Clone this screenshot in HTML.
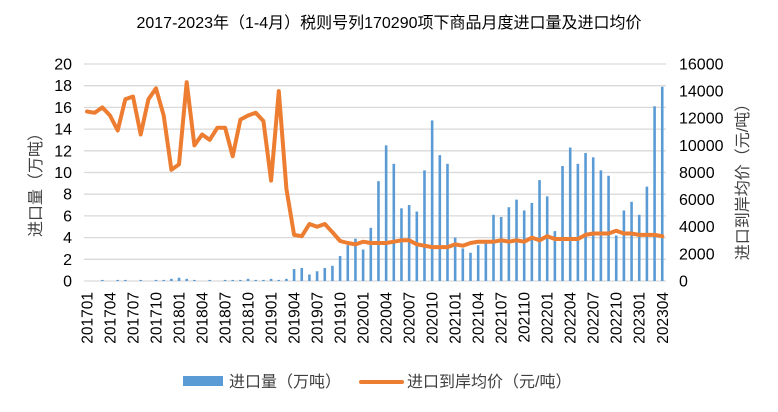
<!DOCTYPE html>
<html><head><meta charset="utf-8"><style>
body{margin:0;background:#fff;}
svg{display:block;font-family:"Liberation Sans","Noto Sans CJK SC",sans-serif;}
</style></head><body>
<svg id="s" width="778" height="412" xmlns="http://www.w3.org/2000/svg">
<rect width="778" height="412" fill="#fff"/>
<text x="389" y="28" text-anchor="middle" font-size="16" fill="#000">2017-2023年（1-4月）税则号列170290项下商品月度进口量及进口均价</text>
<g id="grid"></g><g id="bars"></g><g id="line"></g><g id="lab"></g>
<text transform="translate(41,181) rotate(-90)" text-anchor="middle" font-size="16" fill="#404040">进口量（万吨）</text>
<text transform="translate(748,178) rotate(-90)" text-anchor="middle" font-size="16" fill="#404040">进口到岸均价（元/吨）</text>
<rect x="183" y="376" width="40" height="10" fill="#5b9bd5"/>
<text x="229" y="387" font-size="16" fill="#404040">进口量（万吨）</text>
<line x1="361" y1="382" x2="402" y2="382" stroke="#ed7d31" stroke-width="4" stroke-linecap="round"/>
<text x="407" y="387" font-size="16" fill="#404040">进口到岸均价（元/吨）</text>
</svg>
<script>
var NS="http://www.w3.org/2000/svg";
function el(p,t,a,txt){var e=document.createElementNS(NS,t);for(var k in a)e.setAttribute(k,a[k]);if(txt!==undefined)e.textContent=txt;document.getElementById(p).appendChild(e);return e;}
var y0=281,ppu=10.85,x0=87,dx=7.67;
for(var v=0;v<=20;v+=2){var y=y0-v*ppu;
el('grid','line',{x1:84,x2:666,y1:y,y2:y,stroke:'#d9d9d9','stroke-width':1.3});
el('lab','text',{x:72,y:y+5.5,'text-anchor':'end','font-size':16,fill:'#000'},v);}
for(var r=0;r<=16000;r+=2000){var y=y0-r*0.013563;
el('lab','text',{x:679,y:y+5.5,'font-size':16,fill:'#000'},r);}
var bars=[0,0,0.1,0,0.1,0.1,0,0.1,0,0.1,0.1,0.2,0.3,0.2,0.1,0,0.1,0,0.1,0.1,0.1,0.2,0.1,0.1,0.2,0.1,0.2,1.1,1.2,0.6,0.9,1.2,1.4,2.3,3.3,3.9,2.9,
4.9,9.2,12.5,10.8,6.7,7.0,6.4,10.2,14.8,11.6,10.8,4.0,3.0,2.6,3.3,3.5,6.1,5.9,6.8,7.5,6.5,7.2,9.3,7.8,4.6,10.6,12.3,10.8,11.8,11.4,10.2,9.7,4.2,6.5,7.3,6.1,8.7,16.1,17.9];
var price=[12.5,12.4,12.8,12.2,11.1,13.4,13.6,10.8,13.4,14.2,12.2,8.2,8.6,14.65,10.0,10.8,10.4,11.3,11.3,9.2,11.9,12.2,12.4,11.8,7.4,14.0,6.8,3.4,3.3,4.2,4.0,4.2,3.6,2.95,2.8,2.7,2.9,
2.8,2.8,2.8,2.9,3.0,3.0,2.7,2.6,2.5,2.5,2.5,2.7,2.6,2.8,2.9,2.9,2.9,3.0,2.9,3.0,2.9,3.2,3.0,3.3,3.1,3.1,3.1,3.1,3.4,3.5,3.5,3.5,3.7,3.5,3.5,3.4,3.4,3.4,3.3];
var pts=[];
for(var i=0;i<76;i++){var x=x0+i*dx;var h=bars[i]*ppu;
if(h>0)el('bars','rect',{x:x-1.3,y:y0-h,width:2.6,height:h,fill:'#5b9bd5'});
pts.push(x.toFixed(1)+','+(y0-price[i]*1000*0.013563).toFixed(1));
if(i%3==0){var yr=2017+Math.floor(i/12),m=i%12+1;
el('lab','text',{transform:'translate('+(x+5.5)+',292) rotate(-90)','text-anchor':'end','font-size':15.5,fill:'#000'},''+yr+(m<10?'0':'')+m);}}
el('line','polyline',{points:pts.join(' '),fill:'none',stroke:'#ed7d31','stroke-width':4,'stroke-linejoin':'round','stroke-linecap':'round'});
</script>
</body></html>
